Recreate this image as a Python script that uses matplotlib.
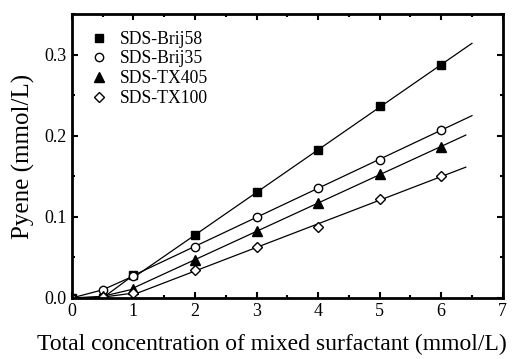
import matplotlib
matplotlib.use("Agg")
import matplotlib.pyplot as plt
import numpy as np
from matplotlib.ticker import MultipleLocator

plt.rcParams['font.family'] = ['Liberation Serif', 'DejaVu Serif']

# concentracao total (mmol/L)
conc = [0, 0.5, 1, 2, 3, 4, 5, 6]

brij58 = [0.0, 0.0, 0.028, 0.077, 0.131, 0.182, 0.236, 0.287]
brij35 = [0.0, 0.010, 0.027, 0.063, 0.100, 0.136, 0.170, 0.207]
tx405 = [0.0, 0.002, 0.011, 0.047, 0.082, 0.117, 0.153, 0.186]
tx100 = [0.0, 0.001, 0.006, 0.034, 0.063, 0.088, 0.122, 0.150]

nomes = ['SDS-Brij58', 'SDS-Brij35', 'SDS-TX405', 'SDS-TX100']
fim_reta = [6.5, 6.5, 6.4, 6.4]  # onde termina a reta ajustada

series = [brij58, brij35, tx405, tx100]
marcadores = [('s', 'k', 5.5), ('o', 'white', 6), ('^', 'k', 6.5), ('D', 'white', 5.5)]

fig = plt.figure(figsize=(5.13, 3.59), dpi=100)
ax = fig.add_axes([0.140, 0.170, 0.840, 0.791])

x = np.array(conc)
for ys, nome, xf, (m, fc, ms) in zip(series, nomes, fim_reta, marcadores):
    y = np.array(ys)
    # trecho inicial ligando os pontos
    ax.plot(x[:3], y[:3], color='k', lw=0.9)
    # reta ajustada nos pontos de 2 a 6
    a, b = np.polyfit(x[3:], y[3:], 1)
    xr = np.array([1, xf])
    ax.plot(xr, a * xr + b, color='k', lw=0.9)
    ax.plot(x, y, ls='none', marker=m, mfc=fc, mec='k', mew=1.0, ms=ms, label=nome)

ax.set_xlim(0, 7)
ax.set_ylim(0, 0.35)
ax.xaxis.set_major_locator(MultipleLocator(1))
ax.xaxis.set_minor_locator(MultipleLocator(0.5))
ax.set_yticks([0, 0.1, 0.2, 0.3])
ax.set_yticklabels(['0.0', '0.1', '0.2', '0.3'])
ax.yaxis.set_minor_locator(MultipleLocator(0.05))
ax.tick_params(which='both', direction='in', top=True, right=True, width=1.5, labelsize=13)
ax.tick_params(which='major', length=4)
ax.tick_params(which='minor', length=2.5)
for s in ax.spines.values():
    s.set_linewidth(2)

ax.set_xlabel('Total concentration of mixed surfactant (mmol/L)', fontsize=17)
ax.xaxis.set_label_coords(0.464, -0.125)
ax.set_ylabel('Pyene (mmol/L)', fontsize=18, labelpad=7)

ax.legend(loc='upper left', frameon=False, fontsize=12.7, handletextpad=0.6,
          borderaxespad=0.55, labelspacing=0.15, handlelength=1.2)

fig.savefig('out.png', dpi=100)
